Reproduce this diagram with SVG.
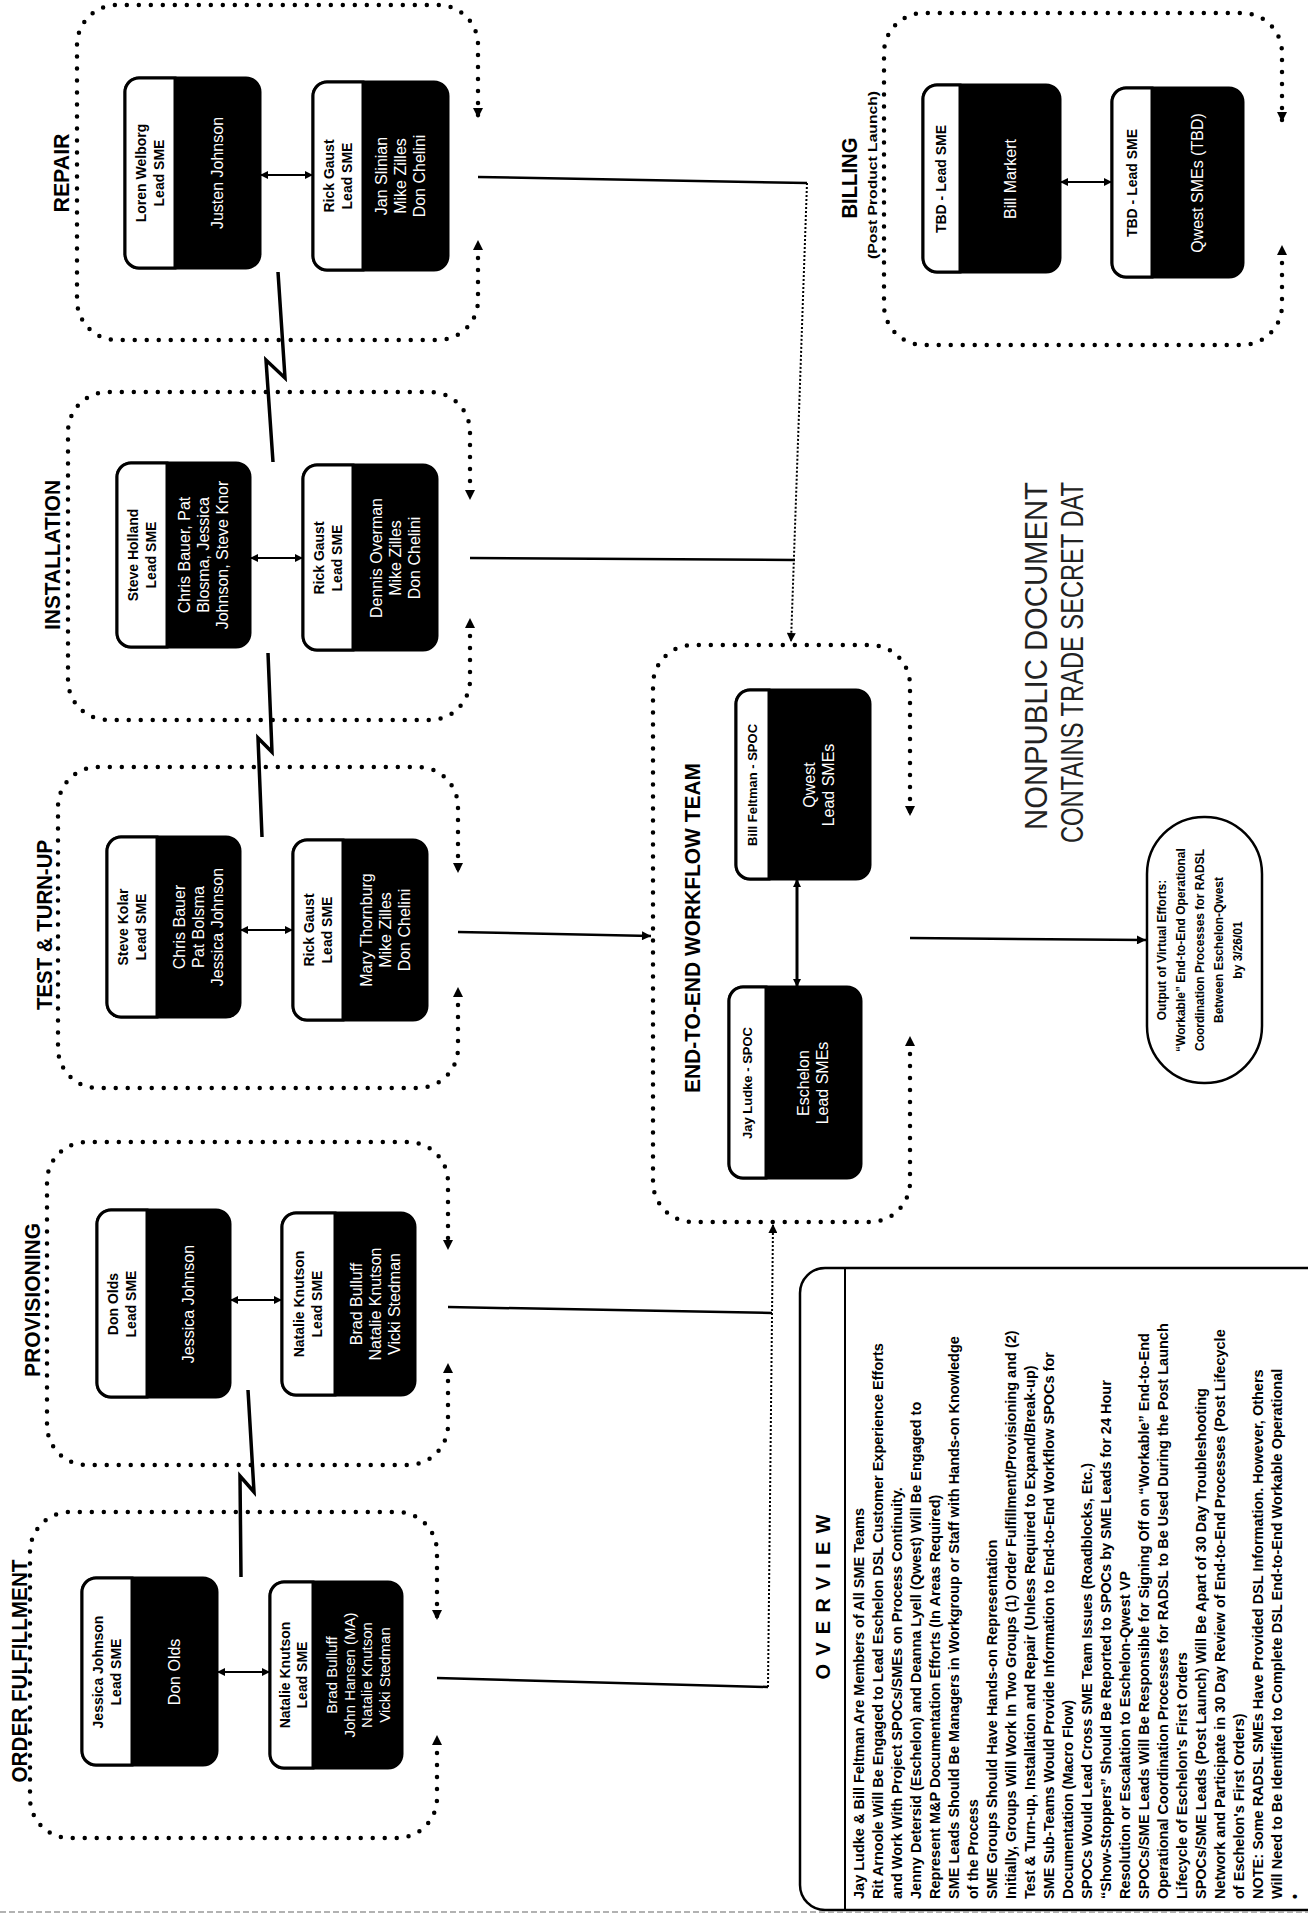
<svg xmlns="http://www.w3.org/2000/svg" width="1308" height="1915" viewBox="0 0 1308 1915">
<style>
.grp{fill:none;stroke:#000;stroke-width:4.5;stroke-linecap:round;stroke-dasharray:0 12;stroke-dashoffset:6;marker-start:url(#da);marker-end:url(#da)}
.bx{fill:#000;stroke:#000;stroke-width:3}
.hdr{fill:#fff;stroke:#000;stroke-width:3}
.ttl{font-family:"Liberation Sans",Arial,sans-serif;font-weight:bold;font-size:22px;text-anchor:middle}
.sub{font-family:"Liberation Sans",Arial,sans-serif;font-weight:bold;font-size:12px;text-anchor:middle}
.hd{font-family:"Liberation Sans",Arial,sans-serif;font-weight:bold;font-size:14px;text-anchor:middle}
.hd2{font-family:"Liberation Sans",Arial,sans-serif;font-weight:bold;font-size:13px;text-anchor:middle}
.bd{font-family:"Liberation Sans",Arial,sans-serif;font-size:16px;fill:#fff;text-anchor:middle}
.bd4{font-family:"Liberation Sans",Arial,sans-serif;font-size:15px;fill:#fff;text-anchor:middle}
.ov{font-family:"Liberation Sans",Arial,sans-serif;font-weight:bold;font-size:14.5px}
.ovt{font-family:"Liberation Sans",Arial,sans-serif;font-weight:bold;font-size:20px;text-anchor:middle}
.ovl{font-family:"Liberation Sans",Arial,sans-serif;font-weight:bold;font-size:12px;text-anchor:middle}
.np{font-family:"Liberation Sans",Arial,sans-serif;font-size:31px;fill:#222}
.solid{fill:none;stroke:#000;stroke-width:2.5}
.fine{fill:none;stroke:#000;stroke-width:2;stroke-dasharray:2 2}
.dbl{fill:none;stroke:#000;stroke-width:2;marker-start:url(#sa);marker-end:url(#sa)}
.bolt{fill:none;stroke:#000;stroke-width:3.5;stroke-linejoin:miter}
</style>
<defs>
<marker id="da" viewBox="0 0 10 10" refX="10" refY="5" markerWidth="12" markerHeight="10" markerUnits="userSpaceOnUse" orient="auto-start-reverse"><path d="M0,0 L10,5 L0,10 z" fill="#000"/></marker>
<marker id="sa" viewBox="0 0 10 10" refX="10" refY="5" markerWidth="9" markerHeight="8" markerUnits="userSpaceOnUse" orient="auto-start-reverse"><path d="M0,0 L10,5 L0,10 z" fill="#000"/></marker>
<marker id="ar" viewBox="0 0 10 10" refX="10" refY="5" markerWidth="11" markerHeight="9" markerUnits="userSpaceOnUse" orient="auto"><path d="M0,0 L10,5 L0,10 z" fill="#000"/></marker>
</defs>
<rect width="1308" height="1915" fill="#fff"/>
<g transform="translate(0,1915) rotate(-90)">

<g id="repair">
<path class="grp" d="M1675,478 H1615 A40,40 0 0 1 1575,438 V117 A40,40 0 0 1 1615,77 H1870 A40,40 0 0 1 1910,117 V438 A40,40 0 0 1 1870,478 H1797"/>
<text class="ttl" x="1742" y="69" textLength="79" lengthAdjust="spacingAndGlyphs">REPAIR</text>
<rect class="bx" x="1647" y="125" width="190" height="135" rx="14"/>
<path class="hdr" d="M1647,175 V139 A14,14 0 0 1 1661,125 H1823 A14,14 0 0 1 1837,139 V175 Z"/>
<text class="hd" x="1742" y="146">Loren Welborg</text><text class="hd" x="1742" y="164">Lead SME</text>
<text class="bd" x="1742" y="223">Justen Johnson</text>
<rect class="bx" x="1645" y="313" width="188" height="135" rx="14"/>
<path class="hdr" d="M1645,363 V327 A14,14 0 0 1 1659,313 H1819 A14,14 0 0 1 1833,327 V363 Z"/>
<text class="hd" x="1739" y="334">Rick Gaust</text><text class="hd" x="1739" y="352">Lead SME</text>
<text class="bd" x="1739" y="387">Jan Slinian</text><text class="bd" x="1739" y="406">Mike Zilles</text><text class="bd" x="1739" y="425">Don Chelini</text>
</g>

<g id="installation">
<path class="grp" d="M1297,470 H1235 A40,40 0 0 1 1195,430 V108 A40,40 0 0 1 1235,68 H1483 A40,40 0 0 1 1523,108 V430 A40,40 0 0 1 1483,470 H1415"/>
<text class="ttl" x="1360" y="60" textLength="150" lengthAdjust="spacingAndGlyphs">INSTALLATION</text>
<rect class="bx" x="1268" y="117" width="184" height="133" rx="14"/>
<path class="hdr" d="M1268,167 V131 A14,14 0 0 1 1282,117 H1438 A14,14 0 0 1 1452,131 V167 Z"/>
<text class="hd" x="1360" y="138">Steve Holland</text><text class="hd" x="1360" y="156">Lead SME</text>
<text class="bd" x="1360" y="190">Chris Bauer, Pat</text><text class="bd" x="1360" y="209">Blosma, Jessica</text><text class="bd" x="1360" y="228">Johnson, Steve Knor</text>
<rect class="bx" x="1265" y="303" width="185" height="134" rx="14"/>
<path class="hdr" d="M1265,353 V317 A14,14 0 0 1 1279,303 H1436 A14,14 0 0 1 1450,317 V353 Z"/>
<text class="hd" x="1357" y="324">Rick Gaust</text><text class="hd" x="1357" y="342">Lead SME</text>
<text class="bd" x="1357" y="382">Dennis Overman</text><text class="bd" x="1357" y="401">Mike Zilles</text><text class="bd" x="1357" y="420">Don Chelini</text>
</g>

<g id="test-turnup">
<path class="grp" d="M928,458 H867 A40,40 0 0 1 827,418 V98 A40,40 0 0 1 867,58 H1108 A40,40 0 0 1 1148,98 V418 A40,40 0 0 1 1108,458 H1042"/>
<text class="ttl" x="990" y="52" textLength="170" lengthAdjust="spacingAndGlyphs">TEST &amp; TURN-UP</text>
<rect class="bx" x="898" y="107" width="180" height="133" rx="14"/>
<path class="hdr" d="M898,157 V121 A14,14 0 0 1 912,107 H1064 A14,14 0 0 1 1078,121 V157 Z"/>
<text class="hd" x="988" y="128">Steve Kolar</text><text class="hd" x="988" y="146">Lead SME</text>
<text class="bd" x="988" y="185">Chris Bauer</text><text class="bd" x="988" y="204">Pat Bolsma</text><text class="bd" x="988" y="223">Jessica Johnson</text>
<rect class="bx" x="895" y="293" width="180" height="134" rx="14"/>
<path class="hdr" d="M895,343 V307 A14,14 0 0 1 909,293 H1061 A14,14 0 0 1 1075,307 V343 Z"/>
<text class="hd" x="985" y="314">Rick Gaust</text><text class="hd" x="985" y="332">Lead SME</text>
<text class="bd" x="985" y="372">Mary Thornburg</text><text class="bd" x="985" y="391">Mike Zilles</text><text class="bd" x="985" y="410">Don Chelini</text>
</g>

<g id="provisioning">
<path class="grp" d="M552,448 H490 A40,40 0 0 1 450,408 V87 A40,40 0 0 1 490,47 H733 A40,40 0 0 1 773,87 V408 A40,40 0 0 1 733,448 H665"/>
<text class="ttl" x="615" y="40" textLength="154" lengthAdjust="spacingAndGlyphs">PROVISIONING</text>
<rect class="bx" x="518" y="97" width="187" height="133" rx="14"/>
<path class="hdr" d="M518,147 V111 A14,14 0 0 1 532,97 H691 A14,14 0 0 1 705,111 V147 Z"/>
<text class="hd" x="611" y="118">Don Olds</text><text class="hd" x="611" y="136">Lead SME</text>
<text class="bd" x="611" y="194">Jessica Johnson</text>
<rect class="bx" x="520" y="282" width="182" height="133" rx="14"/>
<path class="hdr" d="M520,335 V296 A14,14 0 0 1 534,282 H688 A14,14 0 0 1 702,296 V335 Z"/>
<text class="hd" x="611" y="304">Natalie Knutson</text><text class="hd" x="611" y="322">Lead SME</text>
<text class="bd" x="611" y="362">Brad Bulluff</text><text class="bd" x="611" y="381">Natalie Knutson</text><text class="bd" x="611" y="400">Vicki Stedman</text>
</g>

<g id="order-fulfillment">
<path class="grp" d="M180,437 H117 A40,40 0 0 1 77,397 V70 A40,40 0 0 1 117,30 H363 A40,40 0 0 1 403,70 V397 A40,40 0 0 1 363,437 H295"/>
<text class="ttl" x="244" y="27" textLength="223" lengthAdjust="spacingAndGlyphs">ORDER FULFILLMENT</text>
<rect class="bx" x="150" y="82" width="187" height="135" rx="14"/>
<path class="hdr" d="M150,132 V96 A14,14 0 0 1 164,82 H323 A14,14 0 0 1 337,96 V132 Z"/>
<text class="hd" x="243" y="103">Jessica Johnson</text><text class="hd" x="243" y="121">Lead SME</text>
<text class="bd" x="243" y="180">Don Olds</text>
<rect class="bx" x="147" y="270" width="186" height="132" rx="14"/>
<path class="hdr" d="M147,313 V284 A14,14 0 0 1 161,270 H319 A14,14 0 0 1 333,284 V313 Z"/>
<text class="hd" x="240" y="290">Natalie Knutson</text><text class="hd" x="240" y="307">Lead SME</text>
<text class="bd4" x="240" y="337">Brad Bulluff</text><text class="bd4" x="240" y="354.5">John Hansen (MA)</text><text class="bd4" x="240" y="372">Natalie Knutson</text><text class="bd4" x="240" y="389.5">Vicki Stedman</text>
</g>

<g id="billing">
<path class="grp" d="M1670,1282 H1610 A40,40 0 0 1 1570,1242 V924 A40,40 0 0 1 1610,884 H1862 A40,40 0 0 1 1902,924 V1242 A40,40 0 0 1 1862,1282 H1793"/>
<text class="ttl" x="1737" y="857" textLength="81" lengthAdjust="spacingAndGlyphs">BILLING</text>
<text class="sub" x="1740" y="877" textLength="168" lengthAdjust="spacingAndGlyphs">(Post Product Launch)</text>
<rect class="bx" x="1643" y="923" width="187" height="137" rx="14"/>
<path class="hdr" d="M1643,960 V937 A14,14 0 0 1 1657,923 H1816 A14,14 0 0 1 1830,937 V960 Z"/>
<text class="hd" x="1736" y="946">TBD - Lead SME</text>
<text class="bd" x="1736" y="1016">Bill Markert</text>
<rect class="bx" x="1638" y="1112" width="189" height="131" rx="14"/>
<path class="hdr" d="M1638,1152 V1126 A14,14 0 0 1 1652,1112 H1813 A14,14 0 0 1 1827,1126 V1152 Z"/>
<text class="hd" x="1732" y="1137">TBD - Lead SME</text>
<text class="bd" x="1732" y="1203">Qwest SMEs (TBD)</text>
</g>

<g id="end-to-end">
<path class="grp" d="M879,910 H733 A40,40 0 0 1 693,870 V693 A40,40 0 0 1 733,653 H1230 A40,40 0 0 1 1270,693 V870 A40,40 0 0 1 1230,910 H1099"/>
<text class="ttl" x="987" y="700" textLength="330" lengthAdjust="spacingAndGlyphs">END-TO-END WORKFLOW TEAM</text>
<rect class="bx" x="1036" y="736" width="189" height="134" rx="14"/>
<path class="hdr" d="M1036,769 V750 A14,14 0 0 1 1050,736 H1211 A14,14 0 0 1 1225,750 V769 Z"/>
<text class="hd2" x="1130" y="757">Bill Feltman - SPOC</text>
<text class="bd" x="1130" y="815">Qwest</text><text class="bd" x="1130" y="834">Lead SMEs</text>
<rect class="bx" x="737" y="729" width="191" height="132" rx="14"/>
<path class="hdr" d="M737,766 V743 A14,14 0 0 1 751,729 H914 A14,14 0 0 1 928,743 V766 Z"/>
<text class="hd2" x="832" y="752">Jay Ludke - SPOC</text>
<text class="bd" x="832" y="809">Eschelon</text><text class="bd" x="832" y="828">Lead SMEs</text>
</g>

<g id="output">
<rect x="832" y="1147" width="266" height="115" rx="57" fill="#fff" stroke="#000" stroke-width="2.5"/>
<text class="ovl" x="965" y="1166">Output of Virtual Efforts:</text>
<text class="ovl" x="965" y="1185">“Workable” End-to-End Operational</text>
<text class="ovl" x="965" y="1204">Coordination Processes for RADSL</text>
<text class="ovl" x="965" y="1223">Between Eschelon-Qwest</text>
<text class="ovl" x="965" y="1242">by 3/26/01</text>
</g>

<g id="notice">
<text class="np" x="1085" y="1047" textLength="348" lengthAdjust="spacingAndGlyphs">NONPUBLIC DOCUMENT</text>
<text class="np" x="1072" y="1083" textLength="361" lengthAdjust="spacingAndGlyphs">CONTAINS TRADE SECRET DAT</text>
</g>

<g id="overview">
<path d="M647,1312 V825 A25,25 0 0 0 622,800 H30 A25,25 0 0 0 5,825 V1312" fill="none" stroke="#000" stroke-width="2.5"/>
<line x1="5" y1="845" x2="647" y2="845" stroke="#000" stroke-width="2"/>
<text class="ovt" x="318" y="830" textLength="165" lengthAdjust="spacing">OVERVIEW</text>
<text class="ov">
<tspan x="16" y="864">Jay Ludke &amp; Bill Feltman Are Members of All SME Teams</tspan>
<tspan x="16" y="883">Rit Arnoole Will Be Engaged to Lead Eschelon DSL Customer Experience Efforts</tspan>
<tspan x="16" y="902">and Work With Project SPOCs/SMEs on Process Continuity.</tspan>
<tspan x="16" y="921">Jenny Detersid (Eschelon) and Deanna Lyell (Qwest) Will Be Engaged to</tspan>
<tspan x="16" y="940">Represent M&amp;P Documentation Efforts (In Areas Required)</tspan>
<tspan x="16" y="959">SME Leads Should Be Managers in Workgroup or Staff with Hands-on Knowledge</tspan>
<tspan x="16" y="978">of the Process</tspan>
<tspan x="16" y="997">SME Groups Should Have Hands-on Representation</tspan>
<tspan x="16" y="1016">Initially, Groups Will Work In Two Groups (1) Order Fulfillment/Provisioning and (2)</tspan>
<tspan x="16" y="1035">Test &amp; Turn-up, Installation and Repair (Unless Required to Expand/Break-up)</tspan>
<tspan x="16" y="1054">SME Sub-Teams Would Provide Information to End-to-End Workflow SPOCs for</tspan>
<tspan x="16" y="1073">Documentation (Macro Flow)</tspan>
<tspan x="16" y="1092">SPOCs Would Lead Cross SME Team Issues (Roadblocks, Etc.)</tspan>
<tspan x="16" y="1111">“Show-Stoppers” Should Be Reported to SPOCs by SME Leads for 24 Hour</tspan>
<tspan x="16" y="1130">Resolution or Escalation to Eschelon-Qwest VP</tspan>
<tspan x="16" y="1149">SPOCs/SME Leads Will Be Responsible for Signing Off on “Workable” End-to-End</tspan>
<tspan x="16" y="1168">Operational Coordination Processes for RADSL to Be Used During the Post Launch</tspan>
<tspan x="16" y="1187">Lifecycle of Eschelon's First Orders</tspan>
<tspan x="16" y="1206">SPOCs/SME Leads (Post Launch) Will Be Apart of 30 Day Troubleshooting</tspan>
<tspan x="16" y="1225">Network and Participate in 30 Day Review of End-to-End Processes (Post Lifecycle</tspan>
<tspan x="16" y="1244">of Eschelon's First Orders)</tspan>
<tspan x="16" y="1263">NOTE: Some RADSL SMEs Have Provided DSL Information. However, Others</tspan>
<tspan x="16" y="1282">Will Need to Be Identified to Complete DSL End-to-End Workable Operational</tspan>
<tspan x="16" y="1300">•</tspan>
</text>
</g>

<g id="connectors">
<path class="solid" d="M1738,478 L1732,807"/>
<path class="fine" d="M1732,807 L1273,791" marker-end="url(#ar)"/>
<path class="solid" d="M1357,470 L1355,795"/>
<path class="solid" d="M983,458 L979,651" marker-end="url(#ar)"/>
<path class="solid" d="M608,448 L602,772"/>
<path class="solid" d="M237,437 L228,768"/>
<path class="fine" d="M228,768 L691,773" marker-end="url(#ar)"/>
<path class="solid" d="M977,910 L975,1146" marker-end="url(#ar)"/>
<path class="dbl" d="M1740,260 L1740,313"/>
<path class="dbl" d="M1357,250 L1357,303"/>
<path class="dbl" d="M985,240 L985,293"/>
<path class="dbl" d="M615,230 L615,282"/>
<path class="dbl" d="M243,217 L243,270"/>
<path class="dbl" d="M1733,1060 L1733,1112"/>
<path class="dbl" d="M928,797 L1036,797" style="stroke-width:3"/>
<path class="bolt" d="M1643,278 L1537,285 L1555,266 L1453,273"/>
<path class="bolt" d="M1262,268 L1163,272 L1177,258 L1078,262"/>
<path class="bolt" d="M525,248 L423,254 L439,240 L338,241"/>
</g>
<line x1="3" y1="0" x2="3" y2="1308" stroke="#999" stroke-width="1.5" stroke-dasharray="6 3"/>
</g>
</svg>
